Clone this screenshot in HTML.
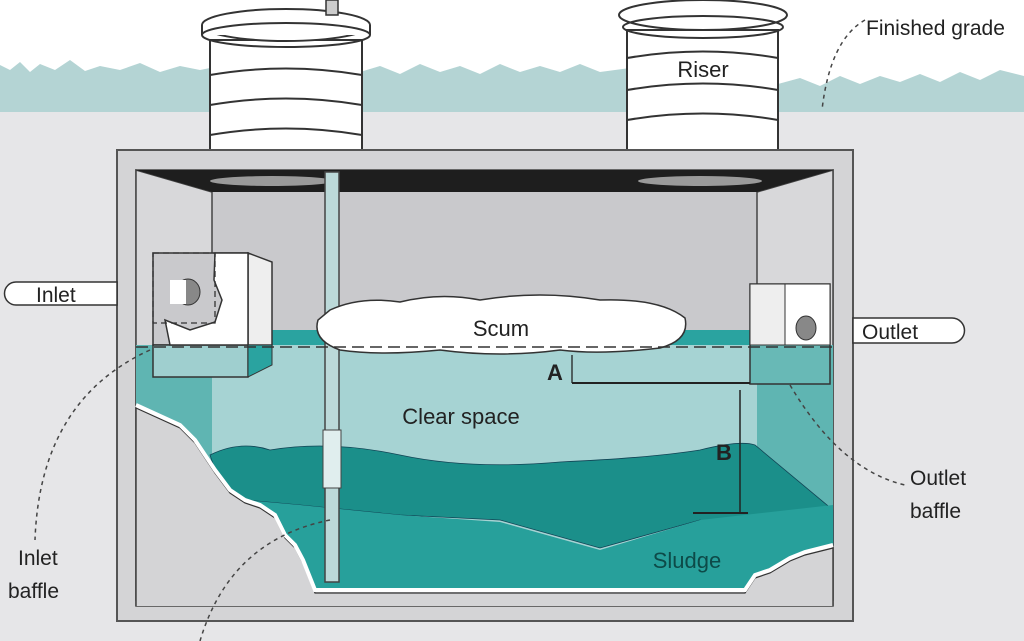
<!DOCTYPE html>
<html><head><meta charset="utf-8"><style>
html,body{margin:0;padding:0;background:#fff;}
svg{display:block}
text{font-family:"Liberation Sans",sans-serif;fill:#222}
</style></head><body>
<svg width="1024" height="641" viewBox="0 0 1024 641" xmlns="http://www.w3.org/2000/svg">
<rect width="1024" height="641" fill="#ffffff"/>
<!-- grass -->
<path d="M0,65 L10,70 L20,62 L30,72 L40,64 L55,70 L70,60 L85,71 L100,66 L120,70 L140,63 L160,72 L180,66 L200,70 L210,68 L210,112 L0,112 Z" fill="#b4d4d4"/>
<path d="M360,72 L380,66 L400,74 L420,64 L440,72 L460,66 L480,74 L500,64 L520,72 L540,66 L560,72 L580,64 L600,72 L630,68 L630,112 L360,112 Z" fill="#b4d4d4"/>
<path d="M778,84 L800,78 L820,86 L840,76 L860,84 L880,76 L900,82 L920,74 L940,82 L960,72 L980,80 L1000,70 L1024,76 L1024,112 L778,112 Z" fill="#b4d4d4"/>
<rect x="0" y="112" width="1024" height="529" fill="#e6e6e8"/>
<!-- risers -->
<g stroke="#333" stroke-width="2" fill="#fff">
<rect x="210" y="40" width="152" height="112"/>
<path d="M210,75 Q286,62 362,75 M210,105 Q286,92 362,105 M210,135 Q286,122 362,135" fill="none"/>
<ellipse cx="286" cy="25" rx="84" ry="16"/>
<rect x="202" y="25" width="168" height="10" stroke="none"/>
<path d="M202,25 L202,35 M370,25 L370,35" />
<ellipse cx="286" cy="35" rx="84" ry="12" fill="none"/>
<rect x="627" y="30" width="151" height="122"/>
<path d="M627,58 Q703,45 778,58 M627,90 Q703,77 778,90 M627,120 Q703,107 778,120" fill="none"/>
<ellipse cx="703" cy="15" rx="84" ry="15"/>
<ellipse cx="703" cy="27" rx="80" ry="11" fill="none"/>
</g>
<rect x="326" y="0" width="12" height="15" fill="#ccc" stroke="#333" stroke-width="1.5"/>
<text x="703" y="77" font-size="22" text-anchor="middle">Riser</text>
<!-- tank -->
<rect x="117" y="150" width="736" height="471" fill="#d4d4d6" stroke="#555" stroke-width="2"/>
<rect x="136" y="170" width="697" height="436" fill="#c9c9cc" stroke="#444" stroke-width="1.5"/>
<path d="M136,170 L212,192 L212,600 L136,600 Z" fill="#d8d8da" stroke="#444" stroke-width="1.5"/>
<path d="M833,170 L757,192 L757,600 L833,600 Z" fill="#d8d8da" stroke="#444" stroke-width="1.5"/>
<path d="M136,170 L833,170 L757,192 L212,192 Z" fill="#1e1e1e"/>
<ellipse cx="272" cy="181" rx="62" ry="5" fill="#9a9a9a"/>
<ellipse cx="700" cy="181" rx="62" ry="5" fill="#9a9a9a"/>
<!-- water -->
<path d="M136,345 L833,345 L833,545 L820,548 L805,560 L785,565 L770,570 L755,590 L315,590 L300,560 L290,548 L280,530 L245,500 L230,490 L215,470 L195,440 L180,425 L136,405 Z" fill="#a6d3d3"/>
<path d="M136,345 L212,345 L212,470 L195,440 L180,425 L136,405 Z" fill="#5fb5b2"/>
<path d="M757,345 L833,345 L833,545 L757,455 Z" fill="#5fb5b2"/>
<path d="M212,330 L757,330 L757,345 L212,345 Z" fill="#2aa3a0"/>
<path d="M210,455 Q240,440 270,450 Q330,440 400,455 Q470,470 560,462 Q650,458 700,450 Q740,440 755,445 L833,510 L833,545 L780,550 L700,520 L600,548 L500,520 L400,515 L300,505 L245,500 L230,490 L215,470 Z" fill="#1b8f8a" stroke="#145" stroke-width="0.8"/>
<path d="M245,500 L300,505 L400,515 L500,522 L600,550 L700,520 L833,505 L833,545 L820,548 L805,560 L785,565 L770,570 L755,590 L315,590 L300,560 L290,548 L280,530 Z" fill="#27a09b"/>
<!-- cutaway gray -->
<path d="M136,405 L180,425 L195,440 L215,470 L230,490 L245,500 L260,505 L275,515 L285,535 L295,545 L303,560 L315,590 L745,590 L755,575 L770,570 L790,558 L805,552 L833,545 L833,606 L136,606 Z" fill="#d4d4d6"/>
<line x1="136" y1="405" x2="136" y2="606" stroke="#444" stroke-width="1.5"/>
<line x1="833" y1="545" x2="833" y2="606" stroke="#444" stroke-width="1.5"/>
<path d="M136,405 L180,425 L195,440 L215,470 L230,490 L245,500 L260,505 L275,515 L285,535 L295,545 L303,560 L315,590 L745,590 L755,575 L770,570 L790,558 L805,552 L833,545" fill="none" stroke="#333" stroke-width="1.2" transform="translate(0,3)"/>
<path d="M136,405 L180,425 L195,440 L215,470 L230,490 L245,500 L260,505 L275,515 L285,535 L295,545 L303,560 L315,590 L745,590 L755,575 L770,570 L790,558 L805,552 L833,545" fill="none" stroke="#fff" stroke-width="4"/>
<!-- pole -->
<rect x="325" y="172" width="14" height="410" fill="#bcd9d9" stroke="#444" stroke-width="1.5"/>
<rect x="323" y="430" width="18" height="58" fill="#e0eeee" stroke="#444" stroke-width="1"/>
<!-- inlet baffle -->
<rect x="153" y="253" width="95" height="92" fill="#c9c9cc" stroke="#333" stroke-width="1.5"/>
<rect x="153" y="345" width="95" height="32" fill="#9fcfcf" stroke="#333" stroke-width="1.5"/>
<path d="M248,253 L272,262 L272,345 L248,345 Z" fill="#eee" stroke="#333" stroke-width="1.5"/>
<path d="M215,253 L248,253 L248,345 L170,345 L165,320 L190,330 L215,322 L222,300 L214,280 Z" fill="#fff" stroke="#333" stroke-width="1.5"/>
<path d="M248,345 L272,345 L272,365 L248,377 Z" fill="#2aa3a0" stroke="#333"/>
<rect x="153" y="253" width="62" height="70" fill="none" stroke="#333" stroke-dasharray="6,4" stroke-width="1.3"/>
<ellipse cx="188" cy="292" rx="12" ry="13" fill="#888" stroke="#333"/>
<rect x="170" y="280" width="16" height="24" fill="#fff" stroke="none"/>
<!-- outlet baffle -->
<rect x="750" y="284" width="80" height="100" fill="#68b9b6" stroke="#333" stroke-width="1.5"/>
<path d="M750,284 L785,284 L785,345 L750,345 Z" fill="#eee" stroke="#333"/>
<path d="M785,284 L830,284 L830,345 L785,345 Z" fill="#fff" stroke="#333"/>
<ellipse cx="806" cy="328" rx="10" ry="12" fill="#888" stroke="#333"/>
<!-- scum -->
<path d="M330,310 Q360,296 400,302 Q440,292 480,300 Q540,290 600,300 Q660,298 685,318 Q690,340 660,348 Q600,355 560,350 Q500,358 440,350 Q380,356 340,350 Q312,340 318,320 Z" fill="#fff" stroke="#333" stroke-width="1.5"/>
<line x1="136" y1="347" x2="833" y2="347" stroke="#333" stroke-width="1.5" stroke-dasharray="12,6"/>
<!-- A / B -->
<line x1="572" y1="383" x2="750" y2="383" stroke="#222" stroke-width="2"/>
<line x1="572" y1="355" x2="572" y2="383" stroke="#222" stroke-width="1.3"/>
<line x1="740" y1="390" x2="740" y2="513" stroke="#222" stroke-width="1.5"/>
<line x1="693" y1="513" x2="748" y2="513" stroke="#222" stroke-width="2"/>
<text x="547" y="380" font-size="22" font-weight="bold">A</text>
<text x="716" y="460" font-size="22" font-weight="bold">B</text>
<text x="461" y="424" font-size="22" text-anchor="middle">Clear space</text>
<text x="501" y="336" font-size="22" text-anchor="middle">Scum</text>
<text x="687" y="568" font-size="22" text-anchor="middle" style="fill:#0d4a48">Sludge</text>
<!-- pills -->
<path d="M117,282 L16,282 A11,11 0 0 0 16,305 L117,305 Z" fill="#fff" stroke="#333" stroke-width="1.5"/>
<text x="36" y="302" font-size="21">Inlet</text>
<path d="M853,318 L952,318 A12,12 0 0 1 952,343 L853,343 Z" fill="#fff" stroke="#333" stroke-width="1.5"/>
<text x="862" y="339" font-size="21">Outlet</text>
<!-- callouts -->
<g fill="none" stroke="#444" stroke-width="1.5" stroke-dasharray="4,4">
<path d="M865,20 Q830,40 822,110"/>
<path d="M150,350 Q40,400 35,540"/>
<path d="M790,385 Q840,470 905,485"/>
<path d="M330,520 Q230,540 200,641"/>
</g>
<text x="866" y="35" font-size="21">Finished grade</text>
<text x="18" y="565" font-size="21">Inlet</text>
<text x="8" y="598" font-size="21">baffle</text>
<text x="910" y="485" font-size="21">Outlet</text>
<text x="910" y="518" font-size="21">baffle</text>
</svg>
</body></html>
